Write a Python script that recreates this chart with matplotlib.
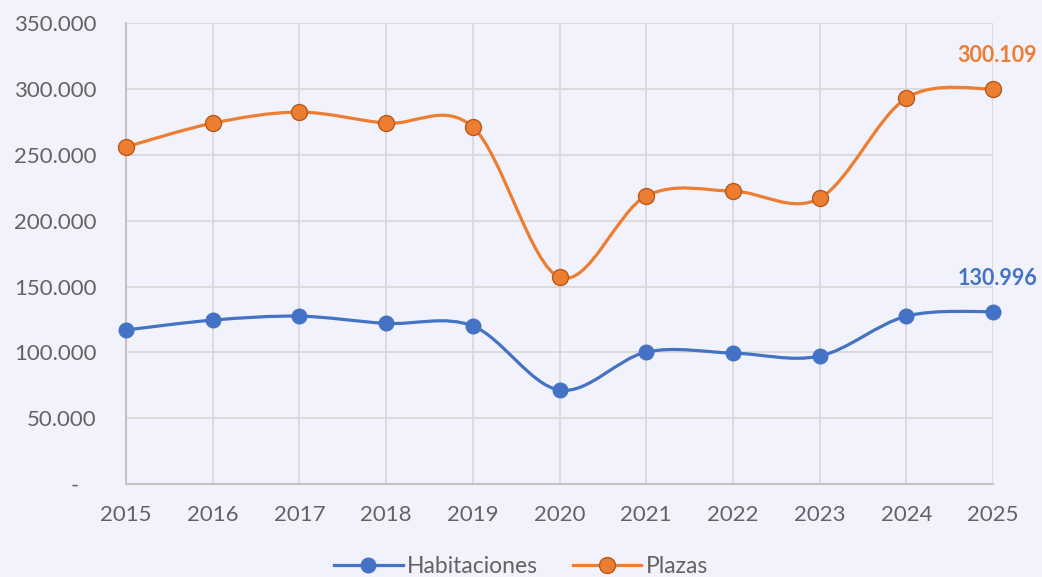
import matplotlib.pyplot as plt
import numpy as np
from matplotlib.path import Path
from matplotlib.patches import PathPatch
from matplotlib.lines import Line2D

years = [2015, 2016, 2017, 2018, 2019, 2020, 2021, 2022, 2023, 2024, 2025]
habitaciones = [117000, 124500, 127500, 122000, 120000, 71400, 100200, 99500, 97200, 127500, 130996]
plazas = [256000, 274000, 282400, 274000, 271000, 157000, 218700, 222400, 217000, 293000, 300109]
yticks = [0, 50000, 100000, 150000, 200000, 250000, 300000, 350000]

BLUE = '#4472C4'
ORANGE = '#ED7D31'
BG = '#F2F2FC'
TXT = '#636363'

plt.rcParams['font.family'] = ['Lato', 'DejaVu Sans']


def smooth_path(x, y):
    # excel-like smoothed line: bezier segments with catmull-rom control points
    x = np.asarray(x, float)
    y = np.asarray(y, float)
    n = len(x)
    verts = [(x[0], y[0])]
    codes = [Path.MOVETO]
    for i in range(n - 1):
        i0 = max(i - 1, 0)
        i3 = min(i + 2, n - 1)
        c1 = (x[i] + (x[i + 1] - x[i0]) / 6, y[i] + (y[i + 1] - y[i0]) / 6)
        c2 = (x[i + 1] - (x[i3] - x[i]) / 6, y[i + 1] - (y[i3] - y[i]) / 6)
        verts += [c1, c2, (x[i + 1], y[i + 1])]
        codes += [Path.CURVE4] * 3
    return Path(verts, codes)


def fmt(v):
    return '{:,.0f}'.format(v).replace(',', '.')


fig = plt.figure(figsize=(10.42, 5.77), dpi=100, facecolor=BG)
ax = fig.add_axes([0.121, 0.161, 0.832, 0.799])
ax.set_facecolor(BG)

styles = [(habitaciones, BLUE, BLUE, 10.5), (plazas, ORANGE, '#B65A1C', 11.5)]
for vals, col, edge, ms in styles:
    ax.add_patch(PathPatch(smooth_path(years, vals), fill=False, edgecolor=col, lw=2.3, zorder=3))
    ax.plot(years, vals, ls='none', marker='o', ms=ms, color=col, mec=edge, mew=1.0,
            zorder=4, clip_on=False)

ax.text(years[-1] + 0.05, plazas[-1] + 17000, fmt(plazas[-1]), color=ORANGE, fontsize=15.5,
        fontweight='bold', ha='center', va='bottom')
ax.text(years[-1] + 0.05, habitaciones[-1] + 17000, fmt(habitaciones[-1]), color=BLUE, fontsize=15.5,
        fontweight='bold', ha='center', va='bottom')

ax.set_xlim(2015, 2025)
ax.set_ylim(0, 350000)
ax.set_xticks(years)
ax.set_xticklabels([str(y) for y in years])
ax.set_yticks(yticks)
ax.set_yticklabels([fmt(v) if v else '-   ' for v in yticks])
ax.grid(True, color='#D9D9D9', lw=1.3)
ax.set_axisbelow(True)
for s in ['top', 'right']:
    ax.spines[s].set_visible(False)
for s in ['left', 'bottom']:
    ax.spines[s].set_color('#BFBFBF')
    ax.spines[s].set_linewidth(1.3)
ax.tick_params(axis='both', length=0, labelsize=16, colors=TXT)
ax.tick_params(axis='y', pad=21)
ax.tick_params(axis='x', pad=15)

handles = [Line2D([], [], color=BLUE, lw=2.3, marker='o', ms=10.5, mec=BLUE),
           Line2D([], [], color=ORANGE, lw=2.3, marker='o', ms=11.5, mec='#B65A1C')]
fig.legend(handles, ['Habitaciones', 'Plazas'], loc='lower center', ncol=2, frameon=False,
           fontsize=16.5, labelcolor=TXT, bbox_to_anchor=(0.5, -0.035), handlelength=3,
           columnspacing=1.5, handletextpad=0.2)

fig.savefig('out.png', dpi=100, facecolor=BG)
